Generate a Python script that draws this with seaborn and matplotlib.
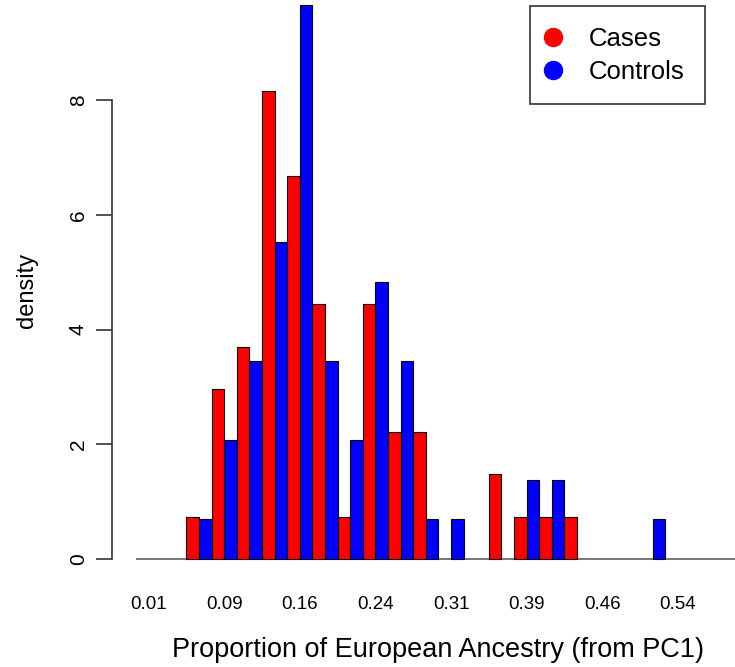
import matplotlib
matplotlib.use("Agg")
import matplotlib.pyplot as plt
import seaborn as sns
import pandas as pd
from matplotlib.lines import Line2D

# ---- data (densities) ----
bin_index = list(range(24))
cases_density = [0, 0, 0.74, 2.96, 3.70, 8.15, 6.67, 4.44, 0.74, 4.44, 2.22, 2.22,
                 0, 0, 1.48, 0.74, 0.74, 0.74, 0, 0, 0, 0, 0, 0]
controls_density = [0, 0, 0.69, 2.07, 3.45, 5.52, 9.66, 3.45, 2.07, 4.83, 3.45, 0.69,
                    0.69, 0, 0, 1.38, 1.38, 0, 0, 0, 0.69, 0, 0, 0]
tick_positions = [0, 3, 6, 9, 12, 15, 18, 21]
tick_labels = ["0.01", "0.09", "0.16", "0.24", "0.31", "0.39", "0.46", "0.54"]
groups = ["Cases", "Controls"]
colors = {"Cases": "#FF0000", "Controls": "#0000FF"}

rows = []
for b, c, k in zip(bin_index, cases_density, controls_density):
    rows.append({"bin": b, "group": "Cases", "density": c})
    rows.append({"bin": b, "group": "Controls", "density": k})
df = pd.DataFrame(rows)
df_draw = df[df["density"] > 0]

sns.set_style("white")
plt.rcParams["font.family"] = ["Liberation Sans", "DejaVu Sans"]
plt.rcParams["text.color"] = "black"
plt.rcParams["xtick.labelcolor"] = "black"
plt.rcParams["ytick.labelcolor"] = "black"

W, H = 735, 667
fig = plt.figure(figsize=(W / 100, H / 100), dpi=100)
ax_left, ax_right, ax_top, ax_bottom = 136, 735, 0, 580
ax = fig.add_axes([ax_left / W, (H - ax_bottom) / H, (ax_right - ax_left) / W, (ax_bottom - ax_top) / H])

ax.axhline(0, color="#777777", lw=1.4, zorder=0)

sns.barplot(data=df_draw, x="bin", y="density", hue="group", order=bin_index,
            hue_order=groups, palette=colors, width=1.0, dodge=True,
            edgecolor="black", linewidth=0.8, errorbar=None, legend=False,
            saturation=1, ax=ax, zorder=2)

px_per_bin = 25.2
ax.set_xlim(-0.5, -0.5 + (ax_right - ax_left) / px_per_bin)
px_per_unit = (559 - 100) / 8
ax.set_ylim(-(ax_bottom - 559) / px_per_unit, (559 - ax_top) / px_per_unit)

for s in ["top", "right", "bottom"]:
    ax.spines[s].set_visible(False)
ax.spines["left"].set_position(("outward", 24 * 0.72))
ax.spines["left"].set_bounds(0, 8)
ax.spines["left"].set_color("#333333")
ax.spines["left"].set_linewidth(1.2)

ax.set_yticks([0, 2, 4, 6, 8])
ax.set_yticklabels(["0", "2", "4", "6", "8"], rotation=90, va="center")
ax.tick_params(axis="y", direction="out", length=16 * 0.72, width=1.2, color="#333333",
               pad=6, labelsize=15, left=True, labelcolor="black")
ax.set_xticks(tick_positions)
ax.set_xticklabels(tick_labels)
ax.tick_params(axis="x", length=0, pad=(596 - 580) * 0.72, labelsize=13.5, labelcolor="black")
ax.set_xlabel("")
ax.set_ylabel("")

fig.text(438 / W, 1 - 650 / H, "Proportion of European Ancestry (from PC1)",
         ha="center", va="center", fontsize=19.5, color="black")
fig.text(27 / W, 1 - 290 / H, "density", ha="center", va="center",
         rotation=90, fontsize=17, color="black")

handles = [Line2D([0], [0], marker="o", linestyle="none", markersize=13,
                  markerfacecolor=colors[g], markeredgecolor=colors[g]) for g in groups]
leg = fig.legend(handles, groups, loc="upper left",
                 bbox_to_anchor=(530 / W, 1 - 6 / H), bbox_transform=fig.transFigure,
                 fontsize=18.5, frameon=True, fancybox=False, framealpha=1,
                 edgecolor="#333333", borderpad=0.8, handlelength=0.2,
                 handletextpad=1.3, labelspacing=0.35, borderaxespad=0)
leg.get_frame().set_linewidth(1.2)
for t in leg.get_texts():
    t.set_color("black")

fig.savefig("out.png", dpi=100)
